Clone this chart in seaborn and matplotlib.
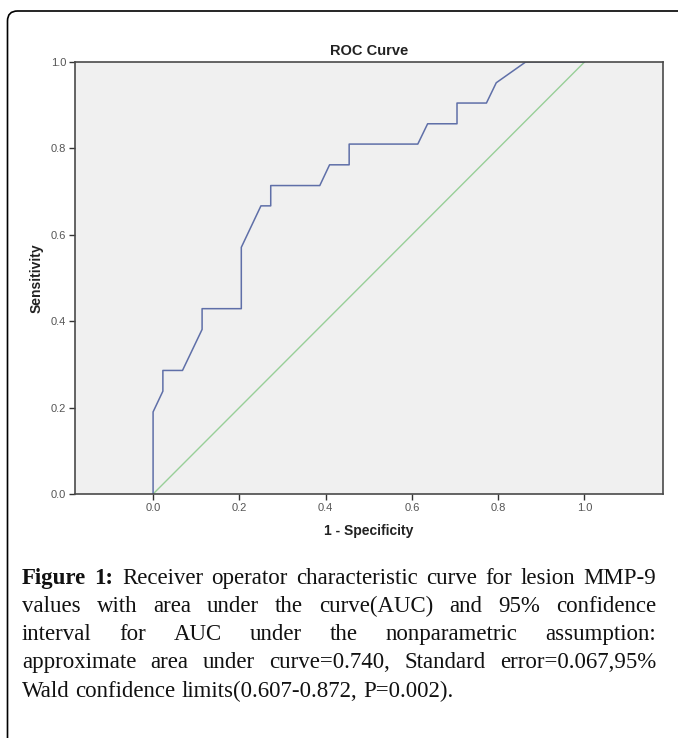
import matplotlib
matplotlib.use("Agg")
import matplotlib.pyplot as plt
import matplotlib.patches as mpatches
import matplotlib.transforms as mtrans
import seaborn as sns
import pandas as pd

# ---- data ----
fpr = [0.0, 0.0, 0.0227, 0.0227, 0.0682, 0.1136, 0.1136, 0.2045, 0.2045, 0.25,
       0.2727, 0.2727, 0.3864, 0.4091, 0.4545, 0.4545, 0.6136, 0.6364, 0.7045,
       0.7045, 0.7727, 0.7955, 0.8636, 1.0]
tpr = [0.0, 0.190, 0.238, 0.286, 0.286, 0.381, 0.429, 0.429, 0.571, 0.667,
       0.667, 0.714, 0.714, 0.762, 0.762, 0.810, 0.810, 0.857, 0.857, 0.905,
       0.905, 0.952, 1.0, 1.0]
ref_x = [0.0, 1.0]
ref_y = [0.0, 1.0]
ticks = [0.0, 0.2, 0.4, 0.6, 0.8, 1.0]
tick_labels = ["0.0", "0.2", "0.4", "0.6", "0.8", "1.0"]
title = "ROC Curve"
xlabel = "1 - Specificity"
ylabel = "Sensitivity"
caption_lines = [
    [("Figure", "bold"), ("1:", "bold"), ("Receiver", "normal"), ("operator", "normal"),
     ("characteristic", "normal"), ("curve", "normal"), ("for", "normal"),
     ("lesion", "normal"), ("MMP-9", "normal")],
    "values with area under the curve(AUC) and 95% confidence",
    "interval for AUC under the nonparametric assumption:",
    "approximate area under curve=0.740, Standard error=0.067,95%",
    "Wald confidence limits(0.607-0.872, P=0.002).",
]

sns.set_style("white")
W, H = 678, 738
fig = plt.figure(figsize=(W / 100, H / 100), dpi=100)

# axes placement in pixels
L, R, T, B = 75, 663, 62, 494
ax = fig.add_axes([L / W, 1 - B / H, (R - L) / W, (B - T) / H])
ax.set_facecolor("#F0F0F0")

roc = pd.DataFrame({"fpr": fpr, "tpr": tpr})
diag = pd.DataFrame({"x": ref_x, "y": ref_y})
sns.lineplot(data=diag, x="x", y="y", ax=ax, color="#98CF98", lw=1.0,
             sort=False, estimator=None)
sns.lineplot(data=roc, x="fpr", y="tpr", ax=ax, color="#5F6FA8", lw=1.1,
             sort=False, estimator=None)

ax.set_xlim(-0.181, 1.182)
ax.set_ylim(0, 1.0)
ax.set_xticks(ticks)
ax.set_xticklabels(tick_labels)
ax.set_yticks(ticks)
ax.set_yticklabels(tick_labels)
ax.tick_params(axis="both", direction="out", length=4, width=1, color="#333333",
               labelsize=8, labelcolor="#555555", pad=2.5,
               bottom=True, left=True, top=False, right=False)
for s in ax.spines.values():
    s.set_color("#4A4A4A")
    s.set_linewidth(1.2)
    s.set_visible(True)

ax.set_title(title, fontsize=10.5, fontweight="bold", family="Liberation Sans",
             color="#222222", pad=5)
ax.set_xlabel(xlabel, fontsize=10, fontweight="bold", family="Liberation Sans",
              color="#222222", labelpad=8)
ax.set_ylabel(ylabel, fontsize=10, fontweight="bold", family="Liberation Sans",
              color="#222222", labelpad=5)
for lab in ax.get_xticklabels() + ax.get_yticklabels():
    lab.set_family("Liberation Sans")

# figure border (rounded top-left corner, open at right and bottom)
border = mpatches.FancyBboxPatch((7.5, -40), W + 60, H - 11 + 40,
                                 boxstyle="round,pad=0,rounding_size=10",
                                 transform=mtrans.IdentityTransform(),
                                 fill=False, edgecolor="black", lw=1.2)
fig.add_artist(border)

# justified caption
renderer = fig.canvas.get_renderer()
fs = 16.5
left_px, right_px = 22, 656
baselines = [584, 612, 640, 668, 697]
for i, line in enumerate(caption_lines):
    if isinstance(line, str):
        words = [(w, "normal") for w in line.split(" ")]
    else:
        words = line
    arts = []
    for w, wt in words:
        t = fig.text(0, 1 - baselines[i] / H, w, fontsize=fs, fontweight=wt,
                     family="Liberation Serif", color="#111111", va="baseline",
                     ha="left")
        arts.append(t)
    widths = [a.get_window_extent(renderer).width for a in arts]
    last = i == len(caption_lines) - 1
    if last:
        space = fs * 0.25 * 100 / 72
    else:
        space = (right_px - left_px - sum(widths)) / max(len(arts) - 1, 1)
    x = left_px
    for a, w in zip(arts, widths):
        a.set_x(x / W)
        x += w + space

fig.savefig("out.png", dpi=100)
